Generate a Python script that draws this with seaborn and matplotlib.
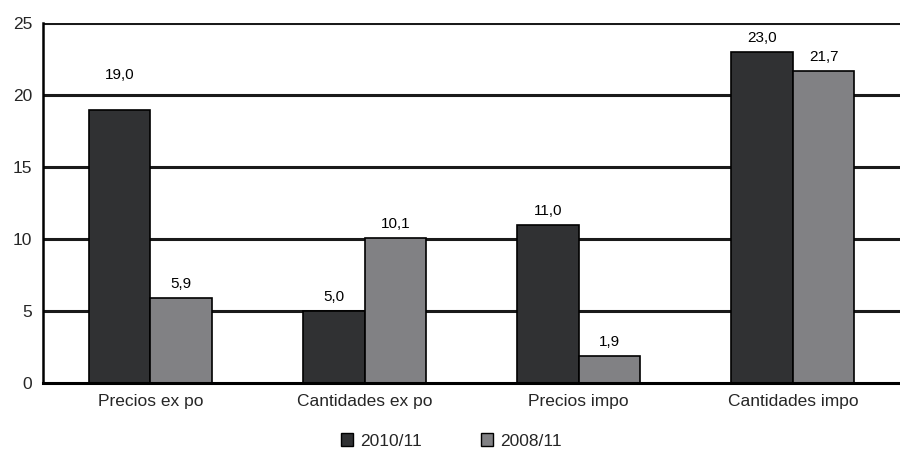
import matplotlib
matplotlib.use('Agg')
import matplotlib.pyplot as plt
import seaborn as sns
import pandas as pd

categories = ['Precios ex po', 'Cantidades ex po', 'Precios impo', 'Cantidades impo']
series_names = ['2010/11', '2008/11']
values_2010 = [19.0, 5.0, 11.0, 23.0]
values_2008 = [5.9, 10.1, 1.9, 21.7]
yticks = [0, 5, 10, 15, 20, 25]
colors = ['#303133', '#808084']

def main():
  sns.set_style('white')
  plt.rcParams['font.family'] = ['Liberation Sans', 'DejaVu Sans']

  df = pd.DataFrame({
    'cat': categories * 2,
    'serie': [series_names[0]] * 4 + [series_names[1]] * 4,
    'valor': values_2010 + values_2008,
  })

  fig = plt.figure(figsize=(9, 4.55), dpi=100)
  ax = fig.add_axes([0.048, 0.158, 0.952, 0.791])

  # gridlines behind the bars
  for y in yticks[1:]:
    ax.axhline(y, color='#1a1a1a', lw=2.2, zorder=0)

  sns.barplot(data=df, x='cat', y='valor', hue='serie', palette=colors,
              width=0.575, edgecolor='black', linewidth=1.2, ax=ax, zorder=2)

  # value labels, comma decimal
  for p in ax.patches:
    h = p.get_height()
    if p.get_width() == 0 or h != h:
      continue
    off = 5
    if 20 - h < 1.5 and h < 20:
      off = 20
    ax.annotate(f'{h:.1f}'.replace('.', ','), (p.get_x() + p.get_width() / 2, h),
                xytext=(0, off), textcoords='offset points', ha='center', va='bottom',
                fontsize=11, color='black')

  ax.set_ylim(0, 25)
  ax.set_xlim(-0.5, 3.5)
  ax.set_yticks(yticks)
  ax.set_xlabel('')
  ax.set_ylabel('')
  ax.tick_params(axis='y', length=4, width=1.5, direction='out', labelsize=12.5, pad=4)
  ax.tick_params(axis='x', which='major', length=0, labelsize=12.5, pad=8)
  ax.set_xticks([0.5, 1.5, 2.5, 3.5], minor=True)
  ax.tick_params(axis='x', which='minor', length=4, width=1.5, direction='out')

  for s in ['top', 'right']:
    ax.spines[s].set_visible(False)
  ax.spines['left'].set_linewidth(1.8)
  ax.spines['bottom'].set_linewidth(2.2)
  ax.spines['left'].set_color('black')
  ax.spines['bottom'].set_color('black')

  leg = ax.legend(loc='upper center', bbox_to_anchor=(0.476, -0.13), ncol=2, frameon=False,
                  fontsize=12.5, handlelength=0.7, handleheight=0.7, handletextpad=0.4,
                  columnspacing=3.4, borderaxespad=0, borderpad=0.2)
  for h in leg.legend_handles:
    h.set_edgecolor('black')
    h.set_linewidth(1)

  fig.savefig('out.png', dpi=100)

if __name__ == "__main__":
    main()
